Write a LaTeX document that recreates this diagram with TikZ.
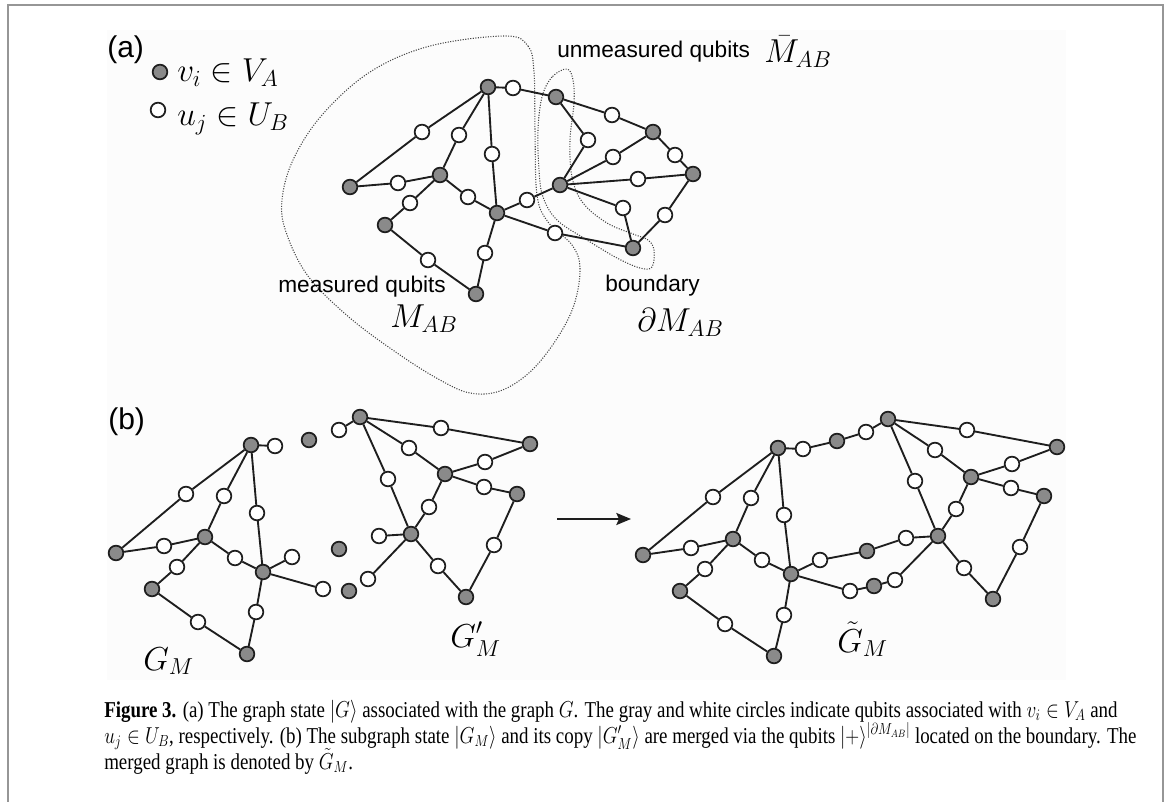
\documentclass[tikz,border=0pt]{standalone}
\usepackage{fontspec}
\setsansfont{Liberation Sans}
\newfontfamily\capfont{Liberation Serif}
\usepackage{amsmath}
\usepackage{amssymb}
\usepackage{graphicx}
\usepackage{xcolor}
\usetikzlibrary{arrows.meta}

\definecolor{qgray}{RGB}{138,138,138}
\definecolor{framegray}{RGB}{150,150,150}
\definecolor{inkdark}{RGB}{30,30,30}

\newlength{\caplen}
\newcommand{\figcapA}{\textbf{Figure 3.} (a) The graph state $|G\rangle$ associated with the graph $G$. The gray and white circles indicate qubits associated with $v_i\in V_A$ and}
\newcommand{\figcapB}{$u_j\in U_B$, respectively. (b) The subgraph state $|G_M\rangle$ and its copy $|G'_M\rangle$ are merged via the qubits $|+\rangle^{|\partial M_{AB}|}$ located on the boundary. The}
\newcommand{\figcapC}{merged graph is denoted by $\tilde{G}_M$.}

\begin{document}
\settowidth{\caplen}{\capfont\fontsize{17}{20}\selectfont\figcapA}%
\pgfmathsetmacro{\capscale}{760/\the\caplen}%
\begin{tikzpicture}[x=0.75pt,y=0.75pt,yscale=-1,xscale=1,
  qa/.style={circle,draw=inkdark,fill=qgray,line width=1.3pt,minimum size=11pt,inner sep=0pt},
  qb/.style={circle,draw=inkdark,fill=white,line width=1.3pt,minimum size=11pt,inner sep=0pt},
  edge/.style={draw=inkdark,line width=1.4pt},
  region/.style={draw={rgb,255:red,70;green,70;blue,70},line width=0.8pt,dash pattern={on 0.8pt off 1.1pt}},
  lbl/.style={font=\sffamily\fontsize{17}{20}\selectfont,anchor=base west,inner sep=0pt},
  tag/.style={font=\sffamily\fontsize{22.5}{26}\selectfont,anchor=base west,inner sep=0pt},
  sym/.style={font=\fontsize{26}{30}\selectfont,anchor=base west,inner sep=0pt},
  capline/.style={font=\capfont\fontsize{17}{20}\selectfont,anchor=base west,inner sep=0pt}]
\useasboundingbox (0,0) rectangle (1171,802);

%Shape: Rectangle
\fill [black!1] (107,30) rectangle (1066,680);
%Straight Lines
\draw [framegray, line width=1.5pt] (8,802) -- (8,5) -- (1163,5) -- (1163,802);

% Text Node
\node [tag] (taga) at (107,58) {(a)};
\node [tag] (tagb) at (108,429) {(b)};

%Shape: Circle
\node [qa] (keyA) at (160,72) {};
\node [qb] (keyB) at (158,110) {};
% Text Node
\node [sym, font=\fontsize{27}{30}\selectfont] (keyAtext) at (177,82) {$v_i\in V_A$};
\node [sym, font=\fontsize{27}{30}\selectfont] (keyBtext) at (177,126) {$u_j\in U_B$};

%Shape: Region
\draw [region] plot [smooth cycle, tension=0.6] coordinates {(505,36) (528,46) (534,72) (535,130) (537,195) (548,222) (572,245) (580,268) (574,305) (556,340) (530,372) (500,391) (470,393) (440,380) (400,355) (350,318) (308,276) (286,232) (282,200) (293,160) (322,115) (370,72) (430,46)};
%Shape: Region
\draw [region] plot [smooth cycle, tension=0.6] coordinates {(567,69) (552,77) (542,97) (538,130) (539,170) (543,197) (557,220) (587,240) (617,258) (640,268) (652,267) (654,250) (648,240) (633,234) (607,223) (583,203) (572,177) (570,140) (574,103) (573,80)};

%Shape: Circle
\node [qa] (g1) at (488,87) {};
\node [qa] (g2) at (556,97) {};
\node [qa] (g3) at (653,132) {};
\node [qa] (g4) at (693,174) {};
\node [qa] (g5) at (560,185) {};
\node [qa] (g6) at (440,175) {};
\node [qa] (g7) at (350,187) {};
\node [qa] (g8) at (497,213) {};
\node [qa] (g9) at (385,225) {};
\node [qa] (g10) at (633,248) {};
\node [qa] (g11) at (476,294) {};
\node [qb] (w1) at (513,88) {};
\node [qb] (w2) at (612,115) {};
\node [qb] (w3) at (675,155) {};
\node [qb] (w4) at (588,140) {};
\node [qb] (w5) at (613,157) {};
\node [qb] (w6) at (638,179) {};
\node [qb] (w7) at (623,208) {};
\node [qb] (w8) at (665,215) {};
\node [qb] (w9) at (422,132) {};
\node [qb] (w10) at (459,135) {};
\node [qb] (w11) at (492,154) {};
\node [qb] (w12) at (398,183) {};
\node [qb] (w13) at (468,197) {};
\node [qb] (w14) at (410,203) {};
\node [qb] (w15) at (527,200) {};
\node [qb] (w16) at (555,233) {};
\node [qb] (w17) at (485,253) {};
\node [qb] (w18) at (428,260) {};

%Straight Lines
\draw [edge] (g1) -- (w1) -- (g2);
\draw [edge] (g2) -- (w2) -- (g3);
\draw [edge] (g3) -- (w3) -- (g4);
\draw [edge] (g2) -- (w4) -- (g5);
\draw [edge] (g5) -- (w5) -- (g3);
\draw [edge] (g5) -- (w6) -- (g4);
\draw [edge] (g5) -- (w7) -- (g10);
\draw [edge] (g4) -- (w8) -- (g10);
\draw [edge] (g7) -- (w9) -- (g1);
\draw [edge] (g6) -- (w10) -- (g1);
\draw [edge] (g1) -- (w11) -- (g8);
\draw [edge] (g7) -- (w12) -- (g6);
\draw [edge] (g6) -- (w13) -- (g8);
\draw [edge] (g6) -- (w14) -- (g9);
\draw [edge] (g8) -- (w15) -- (g5);
\draw [edge] (g8) -- (w16) -- (g10);
\draw [edge] (g8) -- (w17) -- (g11);
\draw [edge] (g9) -- (w18) -- (g11);

% Text Node
\node [lbl] (unmeas) at (557,58) {unmeasured qubits};
\node [sym] (unmeasM) at (764,63) {$\bar{M}_{AB}$};
\node [lbl] (meas) at (278,293) {measured qubits};
\node [sym] (measM) at (390,328) {$M_{AB}$};
\node [lbl] (bound) at (605,292) {boundary};
\node [sym] (boundM) at (637,332) {$\partial M_{AB}$};

%Shape: Circle
\node [qa] (a1) at (251,445) {};
\node [qa] (a2) at (205,537) {};
\node [qa] (a3) at (116,553) {};
\node [qa] (a4) at (263,572) {};
\node [qa] (a5) at (152,589) {};
\node [qa] (a6) at (247,654) {};
\node [qb] (b1) at (275,446) {};
\node [qb] (b2) at (186,494) {};
\node [qb] (b3) at (224,496) {};
\node [qb] (b4) at (257,513) {};
\node [qb] (b5) at (164,546) {};
\node [qb] (b6) at (235,558) {};
\node [qb] (b7) at (292,557) {};
\node [qb] (b8) at (177,567) {};
\node [qb] (b9) at (323,589) {};
\node [qb] (b10) at (256,612) {};
\node [qb] (b11) at (198,622) {};

%Straight Lines
\draw [edge] (a1) -- (b1);
\draw [edge] (a3) -- (b2) -- (a1);
\draw [edge] (a2) -- (b3) -- (a1);
\draw [edge] (a1) -- (b4) -- (a4);
\draw [edge] (a3) -- (b5) -- (a2);
\draw [edge] (a2) -- (b6) -- (a4);
\draw [edge] (a4) -- (b7);
\draw [edge] (a2) -- (b8) -- (a5);
\draw [edge] (a4) -- (b9);
\draw [edge] (a4) -- (b10) -- (a6);
\draw [edge] (a5) -- (b11) -- (a6);

%Shape: Circle
\node [qa] (p1) at (309,440) {};
\node [qa] (p2) at (339,549) {};
\node [qa] (p3) at (349,591) {};

%Shape: Circle
\node [qa] (c1) at (360,417) {};
\node [qa] (c2) at (530,444) {};
\node [qa] (c3) at (445,474) {};
\node [qa] (c4) at (517,494) {};
\node [qa] (c5) at (411,534) {};
\node [qa] (c6) at (466,597) {};
\node [qb] (d1) at (339,430) {};
\node [qb] (d2) at (441,428) {};
\node [qb] (d3) at (409,448) {};
\node [qb] (d4) at (485,462) {};
\node [qb] (d5) at (388,479) {};
\node [qb] (d6) at (484,487) {};
\node [qb] (d7) at (429,507) {};
\node [qb] (d8) at (379,536) {};
\node [qb] (d9) at (494,545) {};
\node [qb] (d10) at (368,579) {};
\node [qb] (d11) at (438,566) {};

%Straight Lines
\draw [edge] (c1) -- (d1);
\draw [edge] (c1) -- (d2) -- (c2);
\draw [edge] (c1) -- (d3) -- (c3);
\draw [edge] (c3) -- (d4) -- (c2);
\draw [edge] (c1) -- (d5) -- (c5);
\draw [edge] (c3) -- (d6) -- (c4);
\draw [edge] (c3) -- (d7) -- (c5);
\draw [edge] (c5) -- (d8);
\draw [edge] (c4) -- (d9) -- (c6);
\draw [edge] (c5) -- (d10);
\draw [edge] (c5) -- (d11) -- (c6);

% Text Node
\node [sym] (gm) at (143,670) {$G_M$};
\node [sym] (gmp) at (450,647) {$G'_M$};

%Straight Lines
\coordinate (arrS) at (557,519);
\coordinate (arrE) at (631,519);
\draw [line width=1.6pt, inkdark, -{Stealth[length=11pt,width=9pt,inset=2pt]}] (arrS) -- (arrE);

%Shape: Circle
\node [qa] (e1) at (778,448) {};
\node [qa] (e2) at (837,441) {};
\node [qa] (e3) at (888,419) {};
\node [qa] (e4) at (1057,447) {};
\node [qa] (e5) at (971,477) {};
\node [qa] (e6) at (1044,496) {};
\node [qa] (e7) at (733,539) {};
\node [qa] (e8) at (643,555) {};
\node [qa] (e9) at (938,536) {};
\node [qa] (e10) at (867,551) {};
\node [qa] (e11) at (791,574) {};
\node [qa] (e12) at (874,586) {};
\node [qa] (e13) at (680,591) {};
\node [qa] (e14) at (993,599) {};
\node [qa] (e15) at (774,656) {};
\node [qb] (f1) at (803,449) {};
\node [qb] (f2) at (866,432) {};
\node [qb] (f3) at (967,430) {};
\node [qb] (f4) at (935,450) {};
\node [qb] (f5) at (1012,464) {};
\node [qb] (f6) at (915,481) {};
\node [qb] (f7) at (1011,488) {};
\node [qb] (f8) at (713,497) {};
\node [qb] (f9) at (751,498) {};
\node [qb] (f10) at (956,509) {};
\node [qb] (f11) at (784,515) {};
\node [qb] (f12) at (906,538) {};
\node [qb] (f13) at (691,548) {};
\node [qb] (f14) at (1020,547) {};
\node [qb] (f15) at (762,560) {};
\node [qb] (f16) at (820,560) {};
\node [qb] (f17) at (705,569) {};
\node [qb] (f18) at (895,580) {};
\node [qb] (f19) at (964,568) {};
\node [qb] (f20) at (850,591) {};
\node [qb] (f21) at (784,615) {};
\node [qb] (f22) at (725,624) {};

%Straight Lines
\draw [edge] (e1) -- (f1) -- (e2) -- (f2) -- (e3);
\draw [edge] (e3) -- (f3) -- (e4);
\draw [edge] (e3) -- (f4) -- (e5);
\draw [edge] (e5) -- (f5) -- (e4);
\draw [edge] (e3) -- (f6) -- (e9);
\draw [edge] (e5) -- (f7) -- (e6);
\draw [edge] (e8) -- (f8) -- (e1);
\draw [edge] (e7) -- (f9) -- (e1);
\draw [edge] (e5) -- (f10) -- (e9);
\draw [edge] (e1) -- (f11) -- (e11);
\draw [edge] (e11) -- (f16) -- (e10) -- (f12) -- (e9);
\draw [edge] (e8) -- (f13) -- (e7);
\draw [edge] (e6) -- (f14) -- (e14);
\draw [edge] (e7) -- (f15) -- (e11);
\draw [edge] (e7) -- (f17) -- (e13);
\draw [edge] (e11) -- (f20) -- (e12) -- (f18) -- (e9);
\draw [edge] (e9) -- (f19) -- (e14);
\draw [edge] (e11) -- (f21) -- (e15);
\draw [edge] (e13) -- (f22) -- (e15);

% Text Node
\node [sym] (gmt) at (837,652) {$\tilde{G}_M$};

% Text Node
\node [capline] (cap1) at (104,717) {\scalebox{\capscale}[1]{\figcapA}};
\node [capline] (cap2) at (104,743) {\scalebox{\capscale}[1]{\figcapB}};
\node [capline] (cap3) at (104,769) {\scalebox{\capscale}[1]{\figcapC}};

\end{tikzpicture}
\end{document}
